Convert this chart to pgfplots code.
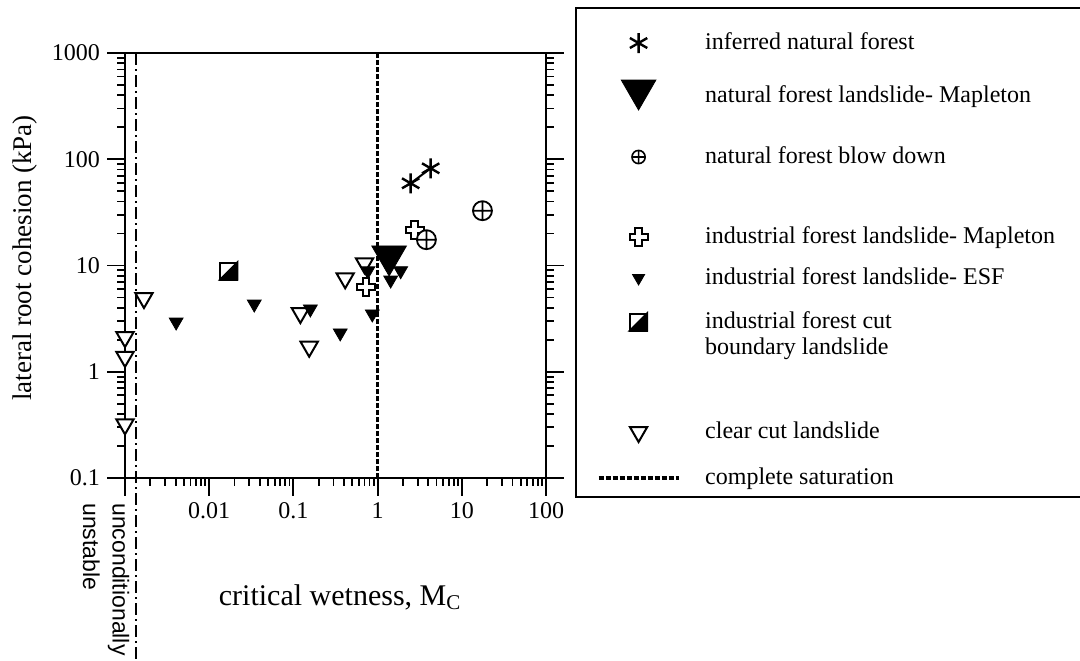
\documentclass[border=0pt]{standalone}
\usepackage{fontspec}
\setmainfont{Liberation Serif}
\setsansfont{Liberation Sans}
\usepackage{pgfplots}
\pgfplotsset{compat=1.18}

% outlined Greek cross
\pgfdeclareplotmark{ocross}{%
  \pgfpathmoveto{\pgfqpoint{0.36\pgfplotmarksize}{\pgfplotmarksize}}%
  \pgfpathlineto{\pgfqpoint{0.36\pgfplotmarksize}{0.36\pgfplotmarksize}}%
  \pgfpathlineto{\pgfqpoint{\pgfplotmarksize}{0.36\pgfplotmarksize}}%
  \pgfpathlineto{\pgfqpoint{\pgfplotmarksize}{-0.36\pgfplotmarksize}}%
  \pgfpathlineto{\pgfqpoint{0.36\pgfplotmarksize}{-0.36\pgfplotmarksize}}%
  \pgfpathlineto{\pgfqpoint{0.36\pgfplotmarksize}{-\pgfplotmarksize}}%
  \pgfpathlineto{\pgfqpoint{-0.36\pgfplotmarksize}{-\pgfplotmarksize}}%
  \pgfpathlineto{\pgfqpoint{-0.36\pgfplotmarksize}{-0.36\pgfplotmarksize}}%
  \pgfpathlineto{\pgfqpoint{-\pgfplotmarksize}{-0.36\pgfplotmarksize}}%
  \pgfpathlineto{\pgfqpoint{-\pgfplotmarksize}{0.36\pgfplotmarksize}}%
  \pgfpathlineto{\pgfqpoint{-0.36\pgfplotmarksize}{0.36\pgfplotmarksize}}%
  \pgfpathlineto{\pgfqpoint{-0.36\pgfplotmarksize}{\pgfplotmarksize}}%
  \pgfpathclose
  \pgfusepathqfillstroke
}
% square, lower right half filled
\pgfdeclareplotmark{halfsq}{%
  \pgfpathrectangle{\pgfqpoint{-\pgfplotmarksize}{-\pgfplotmarksize}}{\pgfqpoint{2\pgfplotmarksize}{2\pgfplotmarksize}}%
  \pgfsetfillcolor{white}%
  \pgfusepathqfillstroke
  \pgfpathmoveto{\pgfqpoint{-\pgfplotmarksize}{-\pgfplotmarksize}}%
  \pgfpathlineto{\pgfqpoint{\pgfplotmarksize}{-\pgfplotmarksize}}%
  \pgfpathlineto{\pgfqpoint{\pgfplotmarksize}{\pgfplotmarksize}}%
  \pgfpathclose
  \pgfsetfillcolor{black}%
  \pgfusepathqfillstroke
}
% strut: height above and depth below the baseline
\newcommand{\rowstrut}[2]{\rule[-#2]{0pt}{\dimexpr#1+#2\relax}}

\begin{document}
\begin{tikzpicture}
\path[use as bounding box] (0,0) rectangle (540bp,-330.5bp);
\begin{axis}[
  scale only axis, width=210.5bp, height=212.5bp,
  at={(62.5bp,-239bp)}, anchor=south west,
  xmode=log, ymode=log,
  xmin=0.001, xmax=100, ymin=0.1, ymax=1000,
  axis line style={line width=1.1bp},
  every tick/.style={black, line width=0.9bp},
  tick align=outside,
  major tick length=9bp, minor tick length=4bp,
  xtick={0.001,0.01,0.1,1,10,100},
  xticklabels={,0.01,0.1,1,10,100},
  ytick={0.1,1,10,100,1000},
  yticklabels={0.1,1,10,100,1000},
  xtick pos=left, ytick pos=both,
  tick label style={font=\fontsize{12bp}{14bp}\selectfont},
  /pgf/number format/assume math mode=true,
  xlabel={critical wetness, M\textsubscript{C}},
  xlabel style={at={(axis description cs:0.511,-0.28)}, anchor=center,
    font=\fontsize{15bp}{18bp}\selectfont},
  ylabel={lateral root cohesion (kPa)},
  ylabel style={at={(axis description cs:-0.2375,0.5176)}, anchor=center,
    font=\fontsize{13.5bp}{16bp}\selectfont},
  clip=false,
  legend image code/.code={\path (0bp,0bp) (40bp,0bp);
    \draw[mark repeat=2,mark phase=2,#1] plot coordinates {(0bp,0bp) (20bp,0bp) (40bp,0bp)};},
  legend image post style={yshift=3bp},
  legend style={at={(axis description cs:1.1211,1.0659)}, anchor=north west,
    draw=none, fill=none, inner sep=0pt, outer sep=0pt, row sep=0pt,
    column sep=12.5bp, font=\fontsize{12bp}{14bp}\selectfont,
    nodes={inner sep=0pt, text depth=}, cells={anchor=base west}},
]
% complete saturation
\addplot[forget plot, line width=1.6bp, dash pattern=on 2.5bp off 1bp]
  coordinates {(1,0.1) (1,1000)};
% limit of unconditional instability
\addplot[forget plot, line width=0.9bp, dash pattern=on 6bp off 2bp on 1bp off 2bp]
  coordinates {(0.00135,1000) (0.00135,0.0019)};

% clear cut landslide
\addplot[forget plot, only marks, mark=triangle*, mark size=5bp,
  mark options={rotate=180, fill=white, draw=black, line width=1bp}]
  coordinates {(0.00168,4.94) (0.001,2.12) (0.001,1.38) (0.001,0.32)
               (0.121,3.57) (0.154,1.72) (0.412,7.58) (0.70,10.5)};
% industrial forest landslide - ESF
\addplot[forget plot, only marks, mark=triangle*, mark size=4bp,
  mark options={rotate=180, fill=black, draw=black}]
  coordinates {(0.00405,2.94) (0.0343,4.34) (0.159,3.9) (0.36,2.32)
               (0.865,3.5) (0.767,8.9) (1.88,8.93) (1.43,7.3)};
% natural forest landslide - Mapleton
\addplot[forget plot, only marks, mark=triangle*, mark size=10bp,
  mark options={rotate=180, fill=black, draw=black}]
  coordinates {(1.37,12.3)};
% industrial forest landslide - Mapleton
\addplot[forget plot, only marks, mark=ocross, mark size=4.5bp,
  mark options={fill=white, draw=black, line width=1bp}]
  coordinates {(0.733,6.3) (2.76,21.6)};
% natural forest blow down
\addplot[forget plot, only marks, mark=oplus*, mark size=4.75bp,
  mark options={fill=white, draw=black, line width=0.9bp}]
  coordinates {(3.8,17.5) (17.6,32.8)};
% inferred natural forest
\addplot[forget plot, line width=1bp] coordinates {(2.47,59.4) (4.27,82.2)};
\addplot[forget plot, only marks, mark=asterisk, mark size=5bp,
  mark options={line width=1.2bp}]
  coordinates {(2.47,59.4) (4.27,82.2)};
% industrial forest cut boundary landslide
\addplot[forget plot, only marks, mark=halfsq, mark size=4.25bp,
  mark options={line width=1bp}]
  coordinates {(0.0171,8.87)};

% legend
\addlegendimage{only marks, mark=asterisk, mark size=5bp, mark options={line width=1.2bp}}
\addlegendentry{\rowstrut{12bp}{14.5bp}inferred natural forest}
\addlegendimage{only marks, mark=triangle*, mark size=10bp, yshift=3bp, mark options={rotate=180, fill=black}}
\addlegendentry{\rowstrut{12bp}{18.5bp}natural forest landslide- Mapleton}
\addlegendimage{only marks, mark=oplus, mark size=3.3bp, mark options={line width=0.8bp}}
\addlegendentry{\rowstrut{12bp}{28bp}natural forest blow down}
\addlegendimage{only marks, mark=ocross, mark size=4.5bp, mark options={fill=white, line width=1bp}}
\addlegendentry{\rowstrut{12bp}{8.5bp}industrial forest landslide- Mapleton}
\addlegendimage{only marks, mark=triangle*, mark size=3.5bp, mark options={rotate=180, fill=black}}
\addlegendentry{\rowstrut{12bp}{10bp}industrial forest landslide- ESF}
\addlegendimage{only marks, mark=halfsq, mark size=4.25bp, mark options={line width=1bp}}
\addlegendentry{\rowstrut{12bp}{3bp}industrial forest cut}
\addlegendimage{empty legend}
\addlegendentry{\rowstrut{10bp}{30bp}boundary landslide}
\addlegendimage{only marks, mark=triangle*, mark size=5bp, mark options={rotate=180, fill=white, line width=1bp}}
\addlegendentry{\rowstrut{12bp}{11bp}clear cut landslide}
\addlegendimage{line width=1.6bp, dash pattern=on 2.5bp off 1bp}
\addlegendentry{\rowstrut{12bp}{3bp}complete saturation}
\end{axis}
% legend frame
\draw[line width=1.1bp] (288bp,-4bp) rectangle (560bp,-248.5bp);
\node[rotate=-90, anchor=base west, inner sep=0pt,
  font=\sffamily\fontsize{11.5bp}{14bp}\selectfont] at (56.25bp,-251.5bp)
  {unconditionally};
\node[rotate=-90, anchor=base west, inner sep=0pt,
  font=\sffamily\fontsize{11.5bp}{14bp}\selectfont] at (41.5bp,-251.5bp)
  {unstable};
\end{tikzpicture}
\end{document}
